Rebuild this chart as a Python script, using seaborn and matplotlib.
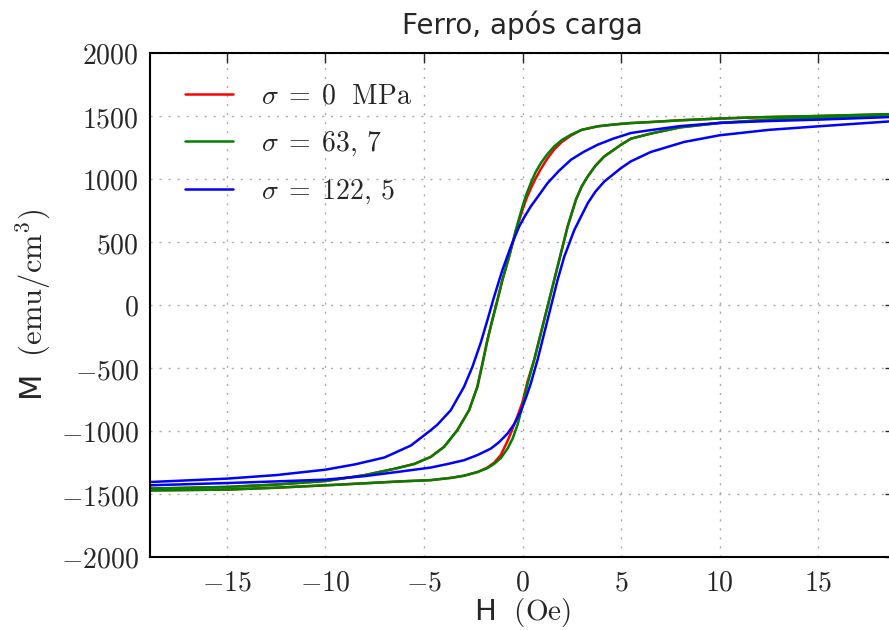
import numpy as np
import pandas as pd
import matplotlib
matplotlib.use("Agg")
import matplotlib.pyplot as plt
from matplotlib.ticker import FuncFormatter
import seaborn as sns

# Curvas: ramo descendente (H de + para -) e ascendente (H de - para +)
h_desc_0 = [18.9, 15, 12, 10, 8, 6.5, 5.5, 4.6, 3.81, 3.0, 2.46, 2.0, 1.61, 1.25, 0.93, 0.65, 0.42, 0.2, 0.0,
            -0.34, -0.68, -1.02, -1.27, -1.53, -1.78, -2.03, -2.29, -2.71, -3.31, -3.98, -4.66, -5.5, -6.5, -8,
            -10, -12.5, -15, -18.9]
m_desc_0 = [1515, 1500, 1490, 1480, 1466, 1452, 1444, 1432, 1418, 1390, 1345, 1295, 1235, 1160, 1080, 1000, 925,
            845, 755, 585, 384, 199, 40, -119, -278, -464, -649, -835, -994, -1126, -1206, -1262, -1300, -1350,
            -1397, -1425, -1444, -1457]
h_asc_0 = [-18.9, -15, -12.5, -10, -8, -6.2, -4.66, -3.63, -2.97, -2.27, -1.78, -1.43, -1.1, -0.76, -0.5, -0.25,
           0.0, 0.25, 0.59, 0.93, 1.27, 1.61, 1.95, 2.29, 2.71, 3.0, 3.31, 3.7, 4.15, 5.0, 5.5, 6.5, 8, 10, 12.5,
           15, 18.9]
m_asc_0 = [-1471, -1465, -1450, -1431, -1415, -1400, -1390, -1372, -1355, -1325, -1290, -1250, -1190, -1080, -980,
           -880, -770, -610, -437, -225, -13, 199, 411, 623, 835, 940, 1020, 1105, 1179, 1272, 1320, 1360, 1410,
           1445, 1470, 1487, 1508]

h_desc_63 = [18.9, 15, 12, 10, 8, 6.5, 5.5, 4.6, 3.81, 3.0, 2.46, 2.0, 1.61, 1.25, 0.93, 0.65, 0.42, 0.2, 0.0,
             -0.34, -0.68, -1.02, -1.27, -1.53, -1.78, -2.03, -2.29, -2.71, -3.31, -3.98, -4.66, -5.5, -6.5, -8,
             -10, -12.5, -15, -18.9]
m_desc_63 = [1516, 1500, 1490, 1480, 1466, 1452, 1444, 1432, 1418, 1390, 1352, 1310, 1259, 1195, 1126, 1050, 967,
             880, 782, 596, 384, 199, 40, -119, -278, -464, -649, -835, -994, -1126, -1206, -1262, -1300, -1350,
             -1397, -1425, -1444, -1457]
h_asc_63 = [-18.9, -15, -12.5, -10, -8, -6.2, -4.66, -3.63, -2.97, -2.27, -1.78, -1.43, -1.1, -0.76, -0.5, -0.25,
            0.0, 0.25, 0.59, 0.93, 1.27, 1.61, 1.95, 2.29, 2.71, 3.0, 3.31, 3.7, 4.15, 5.0, 5.5, 6.5, 8, 10, 12.5,
            15, 18.9]
m_asc_63 = [-1472, -1465, -1450, -1431, -1415, -1400, -1390, -1372, -1355, -1325, -1295, -1260, -1215, -1140, -1060,
            -950, -800, -630, -437, -225, -13, 199, 411, 623, 835, 940, 1020, 1105, 1179, 1272, 1320, 1360, 1410,
            1445, 1470, 1487, 1506]

h_desc_122 = [18.9, 15, 12.5, 10, 8, 6.5, 5.5, 4.6, 3.81, 3.1, 2.46, 1.85, 1.27, 0.85, 0.42, 0.1, -0.17, -0.59,
              -1.02, -1.44, -1.78, -2.12, -2.54, -2.97, -3.64, -4.32, -4.66, -5.66, -7, -8.5, -10, -12.5, -15, -18.9]
m_desc_122 = [1493, 1471, 1460, 1445, 1420, 1388, 1365, 1320, 1272, 1215, 1153, 1065, 967, 875, 782, 700, 623, 464,
              278, 66, -120, -300, -490, -650, -835, -950, -994, -1115, -1210, -1265, -1307, -1350, -1378, -1405]
h_asc_122 = [-18.9, -15, -12.5, -10, -8, -6.2, -4.66, -3.8, -2.97, -2.3, -1.61, -1.2, -0.76, -0.4, -0.08, 0.2,
             0.42, 0.76, 1.1, 1.44, 1.78, 2.12, 2.63, 3.31, 3.7, 4.15, 5.0, 5.5, 6.5, 8.2, 10, 12.5, 15, 18.9]
m_asc_122 = [-1431, -1413, -1400, -1386, -1358, -1322, -1290, -1262, -1232, -1192, -1140, -1090, -1020, -940, -840,
             -725, -623, -437, -225, -13, 199, 384, 596, 808, 900, 980, 1087, 1140, 1214, 1294, 1347, 1390, 1418,
             1460]

rotulos = [r'$\sigma\;=\;0\ \ \mathrm{MPa}$', r'$\sigma\;=\;63,\,7$', r'$\sigma\;=\;122,\,5$']
cores = ['#ff0000', '#008000', '#0000ff']

curvas = [
    (rotulos[0], h_desc_0, m_desc_0, h_asc_0, m_asc_0),
    (rotulos[1], h_desc_63, m_desc_63, h_asc_63, m_asc_63),
    (rotulos[2], h_desc_122, m_desc_122, h_asc_122, m_asc_122),
]
partes = []
for nome, hd, md, ha, ma in curvas:
    partes.append(pd.DataFrame({'H': hd, 'M': md, 'amostra': nome, 'ramo': 'desc'}))
    partes.append(pd.DataFrame({'H': ha, 'M': ma, 'amostra': nome, 'ramo': 'asc'}))
df = pd.concat(partes, ignore_index=True)

sns.set_style("white")
plt.rcParams['mathtext.fontset'] = 'cm'
plt.rcParams['font.family'] = ['DejaVu Sans']

fig = plt.figure(figsize=(8.89, 6.3), dpi=100)
ax = fig.add_axes([150 / 889, 1 - 557 / 630, 745 / 889, 504 / 630])

sns.lineplot(data=df, x='H', y='M', hue='amostra', units='ramo', estimator=None, sort=False,
             palette=cores, hue_order=rotulos, lw=1.8, ax=ax)

ax.set_xlim(-18.9, 18.9)
ax.set_ylim(-2000, 2000)
ax.set_xticks([-15, -10, -5, 0, 5, 10, 15])
ax.set_yticks(np.arange(-2000, 2001, 500))
fmt = FuncFormatter(lambda v, p: r'$%d$' % int(round(v)))
ax.xaxis.set_major_formatter(fmt)
ax.yaxis.set_major_formatter(fmt)
ax.tick_params(direction='in', length=7, width=1, top=True, right=True, labelsize=20, pad=8)
ax.grid(True, ls=(0, (1.5, 5)), color='#aaaaaa', lw=1)
for s in ax.spines.values():
    s.set_linewidth(1.5)
    s.set_color('black')

ax.set_title('Ferro, após carga', fontsize=20, pad=14)
ax.set_xlabel(r'H $\ (\mathrm{Oe})$', fontsize=21, labelpad=0)
ax.set_ylabel(r'M $\ (\mathrm{emu/cm^3})$', fontsize=22, labelpad=6)

handles, labels = ax.get_legend_handles_labels()
ax.legend(handles, labels, loc='upper left', bbox_to_anchor=(0.032, 0.966), borderaxespad=0,
          frameon=False, fontsize=20, handlelength=1.73, handletextpad=1.0, labelspacing=0.69)

fig.savefig('out.png', dpi=100)
